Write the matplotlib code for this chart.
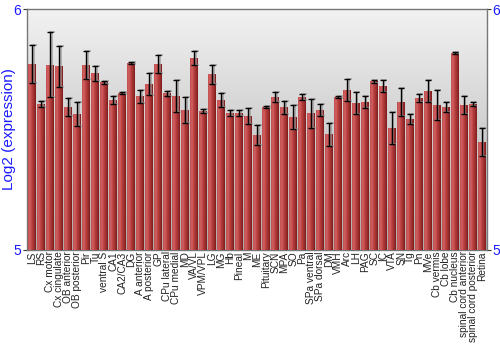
import numpy as np
import matplotlib
matplotlib.use('Agg')
import matplotlib.pyplot as plt
from matplotlib.colors import LinearSegmentedColormap

plt.rcParams['font.family'] = ['Liberation Sans', 'DejaVu Sans']

regions = ['LS', 'RS', 'Cx motor', 'Cx cingulate', 'OB anterior', 'OB posterior',
           'Pir', 'Tu', 'ventral S', 'CA1', 'CA2/CA3', 'DG', 'A anterior',
           'A posterior', 'GP', 'CPu lateral', 'CPu medial', 'MD', 'VA/VL',
           'VPM/VPL', 'LG', 'MG', 'Hb', 'Pineal', 'M', 'ME', 'Pituitary', 'SCN',
           'MPA', 'SO', 'Pa', 'SPa ventral', 'SPa dorsal', 'DM', 'VMH', 'Arc',
           'LH', 'PAG', 'SC', 'IC', 'VTA', 'SN', 'Tg', 'Pn', 'MVe', 'Cb vermis',
           'Cb lobe', 'Cb nucleus', 'spinal cord anterior',
           'spinal cord posterior', 'Retina']

expr = [5.772, 5.606, 5.768, 5.763, 5.593, 5.564, 5.768, 5.734, 5.697, 5.622,
        5.651, 5.776, 5.639, 5.689, 5.772, 5.651, 5.639, 5.581, 5.797, 5.577,
        5.730, 5.622, 5.568, 5.568, 5.556, 5.477, 5.593, 5.635, 5.593, 5.552,
        5.635, 5.568, 5.581, 5.481, 5.635, 5.664, 5.610, 5.614, 5.701, 5.680,
        5.506, 5.614, 5.544, 5.631, 5.660, 5.602, 5.593, 5.817, 5.602, 5.606,
        5.448]

err = [0.077, 0.012, 0.135, 0.085, 0.039, 0.050, 0.060, 0.031, 0.006, 0.017,
       0.004, 0.006, 0.027, 0.044, 0.039, 0.010, 0.066, 0.054, 0.029, 0.008,
       0.039, 0.029, 0.012, 0.012, 0.035, 0.041, 0.004, 0.021, 0.027, 0.048,
       0.012, 0.060, 0.025, 0.048, 0.006, 0.046, 0.046, 0.025, 0.006, 0.025,
       0.066, 0.058, 0.021, 0.017, 0.044, 0.064, 0.021, 0.004, 0.039, 0.008,
       0.058]

ymin, ymax = 5, 6
blue = '#1a1aff'

fig = plt.figure(figsize=(5, 3.5), dpi=100)
ax = fig.add_axes([0.054, 0.286, 0.92, 0.688])

x = np.arange(len(regions))
xlo, xhi = -0.6, len(regions) - 0.45
ax.set_xlim(xlo, xhi)
ax.set_ylim(ymin, ymax)

# gray background gradient, light at the top
bg = np.linspace(0, 1, 256).reshape(-1, 1)
bg_cmap = LinearSegmentedColormap.from_list('bg', ['#f2f2f2', '#adadad'])
ax.imshow(bg, cmap=bg_cmap, aspect='auto', origin='upper',
          extent=[xlo, xhi, ymin, ymax], zorder=0)

bars = ax.bar(x, np.array(expr) - ymin, bottom=ymin, width=0.88, color='#b53c3c',
              zorder=2)

# horizontal shading on each bar
bar_cmap = LinearSegmentedColormap.from_list(
    'bar', ['#c45050', '#d06060', '#b84040', '#a03030', '#7e1c1c'])
grad = np.linspace(0, 1, 32).reshape(1, -1)
for b in bars:
    x0 = b.get_x()
    ax.imshow(grad, cmap=bar_cmap, aspect='auto',
              extent=[x0, x0 + b.get_width(), ymin, ymin + b.get_height()], zorder=3)

# soft shadow + error bars
ax.errorbar(x + 0.15, expr, yerr=err, fmt='none', ecolor='#999999', elinewidth=1.2,
            capsize=2.2, capthick=1.2, zorder=4, alpha=0.8)
ax.errorbar(x, expr, yerr=err, fmt='none', ecolor='black', elinewidth=1,
            capsize=2, capthick=1, zorder=5)

ax.set_xticks(x)
ax.set_xticklabels(regions, rotation=90, fontsize=7.3, color='#222222')
ax.tick_params(axis='x', length=0, pad=1)

ax.set_yticks([5, 6])
ax.tick_params(axis='y', colors='#333333', labelcolor=blue, labelsize=10,
               length=3, pad=1, right=True, labelright=True)
ax.set_ylabel('Log2 (expression)', color=blue, fontsize=11, labelpad=-2)

for s in ax.spines.values():
    s.set_color('#777777')
    s.set_linewidth(1)

fig.savefig('out.png', dpi=100)
